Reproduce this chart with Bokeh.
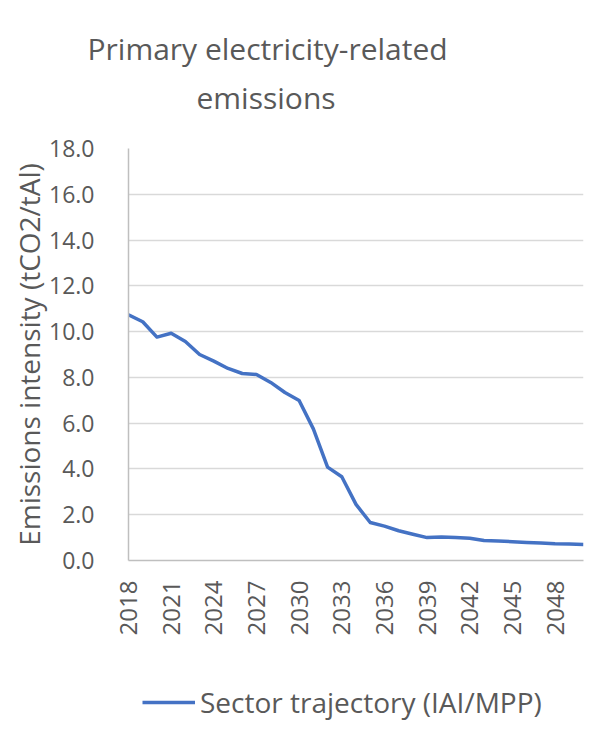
from bokeh.plotting import figure
from bokeh.layouts import column
from bokeh.models import FixedTicker, Legend, LegendItem, Title, Range1d, CustomJSTickFormatter
from bokeh.embed import file_html
from bokeh.resources import INLINE
import math

years = list(range(2018, 2051))
intensity = [10.73, 10.43, 9.76, 9.93, 9.57, 9.00, 8.71, 8.39, 8.17, 8.13, 7.78,
             7.34, 6.99, 5.75, 4.08, 3.66, 2.45, 1.66, 1.50, 1.30, 1.15, 1.00,
             1.03, 1.00, 0.97, 0.87, 0.85, 0.82, 0.79, 0.76, 0.73, 0.72, 0.70]
year_ticks = list(range(2018, 2049, 3))
y_ticks = [0, 2, 4, 6, 8, 10, 12, 14, 16, 18]
title_lines = ["Primary electricity-related", "emissions"]
y_title = "Emissions intensity (tCO2/tAl)"
series_name = "Sector trajectory (IAI/MPP)"

FONT = "Open Sans"
GREY = "#595959"
BLUE = "#4472C4"

p = figure(width=593, height=660, output_backend="svg", toolbar_location=None,
           x_range=Range1d(2018, 2050), y_range=Range1d(0, 18),
           min_border_left=128, min_border_right=10, min_border_top=148,
           min_border_bottom=100)
p.title = None
p.outline_line_color = None
p.background_fill_color = "white"

r = p.line(years, intensity, line_color=BLUE, line_width=3.5, line_join="round")

# axes
p.xaxis.ticker = FixedTicker(ticks=year_ticks)
p.xaxis.major_label_orientation = math.pi / 2
p.xaxis.major_tick_line_color = None
p.xaxis.minor_tick_line_color = None
p.xaxis.axis_line_color = "#BFBFBF"
p.xaxis.axis_line_width = 1.5
p.xaxis.major_label_text_font = FONT
p.xaxis.major_label_text_font_size = "24px"
p.xaxis.major_label_text_color = GREY
p.xaxis.major_label_standoff = 14

p.yaxis.ticker = FixedTicker(ticks=y_ticks)
p.yaxis.formatter = CustomJSTickFormatter(code="return tick.toFixed(1);")
p.yaxis.major_tick_line_color = None
p.yaxis.minor_tick_line_color = None
p.yaxis.axis_line_color = "#BFBFBF"
p.yaxis.axis_line_width = 1.5
p.yaxis.major_label_text_font = FONT
p.yaxis.major_label_text_font_size = "23px"
p.yaxis.major_label_text_color = GREY
p.yaxis.major_label_standoff = 28
p.yaxis.axis_label = y_title
p.yaxis.axis_label_text_font = FONT
p.yaxis.axis_label_text_font_size = "28px"
p.yaxis.axis_label_text_font_style = "normal"
p.yaxis.axis_label_text_color = GREY
p.yaxis.axis_label_standoff = -2

p.xgrid.grid_line_color = None
p.ygrid.grid_line_color = "#D9D9D9"
p.ygrid.grid_line_width = 1.5

# title: two lines stacked above a small spacer, nearest-to-frame first
spacer = Title(text=" ", text_font_size="1px", standoff=5)
t2 = Title(text=title_lines[1], align="left", offset=68, text_font=FONT,
           text_font_size="30px", text_font_style="normal", text_color=GREY,
           standoff=46)
t1 = Title(text=title_lines[0], align="left", offset=-41, text_font=FONT,
           text_font_size="30px", text_font_style="normal", text_color=GREY,
           standoff=-34)
p.add_layout(spacer, "above")
p.add_layout(t2, "above")
p.add_layout(t1, "above")

# legend strip below the chart
lg = figure(width=593, height=67, output_backend="svg", toolbar_location=None,
            x_range=Range1d(0, 1), y_range=Range1d(0, 1),
            x_axis_type=None, y_axis_type=None,
            min_border=0)
lg.outline_line_color = None
lg.xgrid.grid_line_color = None
lg.ygrid.grid_line_color = None
lr = lg.line(years, intensity, line_color=BLUE, line_width=3.5)
legend = Legend(items=[LegendItem(label=series_name, renderers=[lr])],
                location=(14, 6), orientation="horizontal",
                glyph_width=53, label_standoff=5, border_line_color=None,
                background_fill_alpha=0, label_text_font=FONT,
                label_text_font_size="28px", label_text_color=GREY,
                padding=0, margin=0)
lg.add_layout(legend)

layout = column(p, lg, spacing=0)
open("out.html", "w").write(file_html(layout, INLINE))
